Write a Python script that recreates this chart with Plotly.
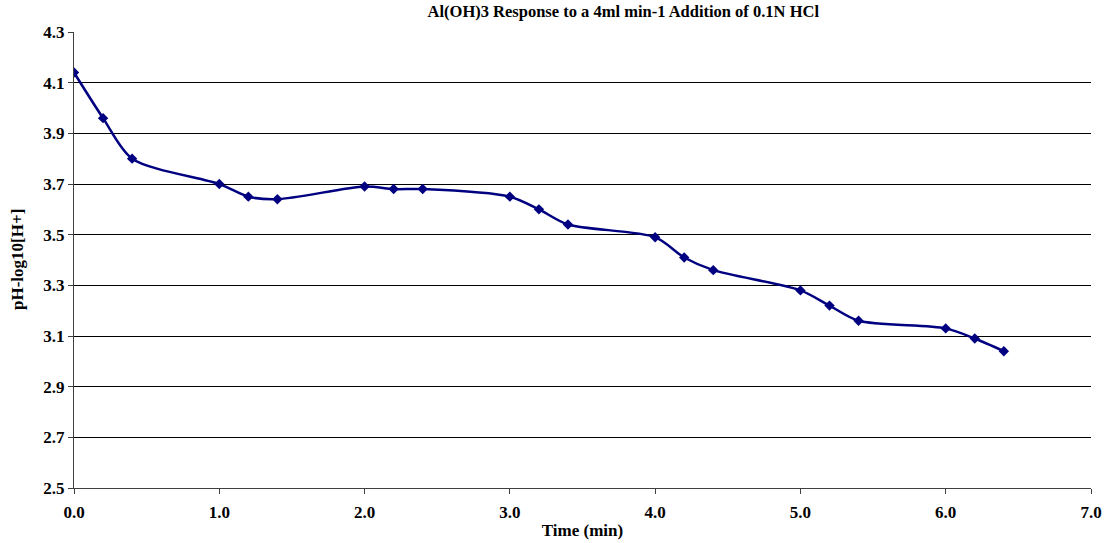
import plotly.graph_objects as go

time_min = [0.0, 0.2, 0.4, 1.0, 1.2, 1.4, 2.0, 2.2, 2.4, 3.0, 3.2, 3.4, 4.0, 4.2, 4.4, 5.0, 5.2, 5.4, 6.0, 6.2, 6.4]
ph = [4.14, 3.96, 3.80, 3.70, 3.65, 3.64, 3.69, 3.68, 3.68, 3.65, 3.60, 3.54, 3.49, 3.41, 3.36, 3.28, 3.22, 3.16, 3.13, 3.09, 3.04]

x_ticks = [0, 1, 2, 3, 4, 5, 6, 7]
y_ticks = [2.5, 2.7, 2.9, 3.1, 3.3, 3.5, 3.7, 3.9, 4.1, 4.3]

font_family = "Liberation Serif"

fig = go.Figure()
fig.add_trace(go.Scatter(
    x=time_min, y=ph, mode="lines+markers",
    line=dict(color="#000080", width=2.5, shape="spline", smoothing=0.8),
    marker=dict(symbol="diamond", size=8, color="#000080"),
    showlegend=False,
))

fig.update_layout(
    width=1111, height=543,
    margin=dict(l=74, r=20, t=32, b=55),
    paper_bgcolor="white", plot_bgcolor="white",
    font=dict(family=font_family, color="black", size=17),
    title=dict(text="<b>Al(OH)3 Response to a 4ml min-1 Addition of 0.1N HCl</b>",
               x=0.561, xanchor="center", y=0.99, yanchor="top",
               font=dict(family=font_family, size=16.5, color="black", weight="bold")),
)
fig.add_annotation(
    text="<b>pH-log10[H+]</b>", textangle=-90,
    xref="paper", yref="paper", x=0, y=0.5, xanchor="center", yanchor="middle",
    xshift=-57, showarrow=False, font=dict(family=font_family, size=17, color="black"),
)
fig.update_xaxes(
    range=[0, 7], tickvals=x_ticks, ticktext=[f"<b>{v:.1f}</b>" for v in x_ticks],
    tickfont=dict(size=17), automargin=False, ticklabelstandoff=4,
    showgrid=False, zeroline=False, showline=True, linecolor="#404040", linewidth=1,
    ticks="outside", ticklen=5, tickcolor="#404040",
    title=dict(text="<b>Time (min)</b>", font=dict(size=17), standoff=2),
)
fig.update_yaxes(
    range=[2.5, 4.3], tickvals=y_ticks, ticktext=[f"<b>{v:.1f}</b>" for v in y_ticks],
    tickfont=dict(size=17), automargin=False,
    showgrid=True, gridcolor="black", gridwidth=1, zeroline=False,
    showline=True, linecolor="#404040", linewidth=1,
    ticks="outside", ticklen=5, tickcolor="#404040",
)

fig.write_html("out.html")
